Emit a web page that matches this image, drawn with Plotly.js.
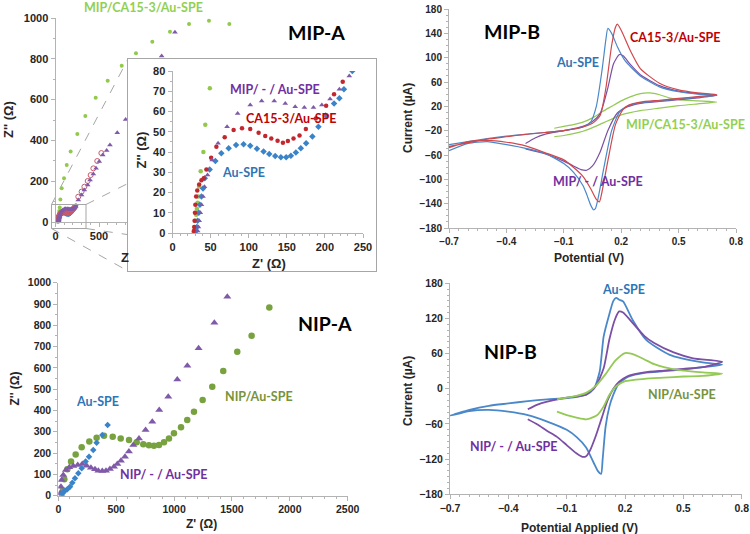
<!DOCTYPE html>
<html><head><meta charset="utf-8">
<script src="https://cdn.plot.ly/plotly-3.0.1.min.js"></script>
<style>html,body{margin:0;padding:0;background:#fff}#chart{width:750px;height:534px}</style>
</head><body><div id="chart"></div>
<script>
// ===================== DATA =====================
// MIP-A (EIS, Nyquist) — points in the zoomed inset range (Z', Z'' in Ω)
const mipA_au_zre   = [31,32,33,34.5,36,38,40,42.3,48.8,56.3,64.1,73.7,83.4,93.3,102,110.8,119.5,127,134.8,142.2,149.2,155.4,161.9,168.4,175.4,183.6,191.5,201,212,219,225,236];
const mipA_au_zim   = [1,3,6,10,14,18,22,27,31.4,35.6,39.4,41.8,43.5,43.8,43.1,41.6,40.2,39,38,37.4,37.4,38.2,39.8,41.8,44.3,47.6,52.5,58,64,66.5,71,80];
const mipA_ca_zre   = [28,28.5,29,29.5,30,31,32.5,35,38,41,44.5,50.7,57.6,68.5,80.2,91.2,102,113,121.7,129.6,137.9,144.9,151.4,158.8,166.7,175,188,201.6,212,223.4];
const mipA_ca_zim   = [1,3,6,10,14,18,21,24,26,27,31.4,37.2,42.6,47.3,50.9,51.7,51.4,49.5,47.9,46.7,45.6,44.6,45.4,46.7,48.2,51.4,56.5,62.9,68.5,74.7];
const mipA_mip_zre  = [33,34,35,36.5,38,40,42,46,52,59.8,71.6,85.5,102,117,133.5,148,161,173,185,196,206.8,219,232];
const mipA_mip_zim  = [1,3,6,10,14,18,22.9,28.6,36,44.3,52.5,59,63.2,65.2,65.2,64,62.4,62,62,63.2,66.2,71,77.5];
const mipA_mipca_zre = [28,29,30,31,32,33,34,35,37,40.5,43,49];
const mipA_mipca_zim = [0.5,3,6,9,12,15,18,23,30.5,40,53.5,71.5];
// MIP-A — further (low-frequency) points seen on the main, full-scale plot
const mipA_ca_zre_hi   = [262,300,332,370,404,435,480,527];
const mipA_ca_zim_hi   = [124,149,173,201,230,263,299,338];
const mipA_mip_zre_hi  = [262,300,331,370,397,435,466,503,543,588,626,710,806,1220,1373];
const mipA_mip_zim_hi  = [108,132,157,181,206,235,263,296,328,350,377,438,503,814,930];
const mipA_mipca_zre_hi = [56,71,98,129,174,251,343,462,600,761,925,1113,1316,1535,1764,1998,2225,2416];
const mipA_mipca_zim_hi = [110,165,214,279,345,431,520,609,693,766,827,884,933,971,987,971,923,854];

// MIP-B (cyclic voltammetry): potential (V) and current (µA)
const mipB_au_E  = [-0.7,-0.6,-0.5,-0.4,-0.3,-0.2,-0.1,0,0.04,0.07,0.1,0.12,0.13,0.15,0.18,0.22,0.3,0.4,0.5,0.6,0.7, 0.6,0.5,0.4,0.3,0.23,0.19,0.15,0.11,0.08,0.065,0.055,0.04,0.02,0,-0.05,-0.1,-0.2,-0.3,-0.4,-0.5,-0.6,-0.7];
const mipB_au_I  = [-43,-38,-33,-29,-26,-23,-20,-14,-6,20,80,130,148,140,118,95,70,52,44,40,38, 35,32,29,26,20,10,-20,-80,-130,-148,-150,-142,-125,-110,-88,-74,-57,-49,-43,-38,-41,-53];
const mipB_ca_E  = [-0.7,-0.6,-0.5,-0.4,-0.3,-0.2,-0.1,0,0.05,0.09,0.12,0.15,0.17,0.18,0.2,0.25,0.3,0.4,0.5,0.6,0.7, 0.6,0.5,0.4,0.3,0.24,0.21,0.17,0.13,0.1,0.086,0.07,0.04,0,-0.05,-0.1,-0.2,-0.3,-0.4,-0.5,-0.6,-0.7];
const mipB_ca_I  = [-46,-40,-34,-30,-26,-23,-20,-14,-8,5,50,120,150,155,145,110,82,58,47,42,39, 36,33,30,27,22,15,-10,-70,-120,-137,-133,-115,-95,-80,-68,-56,-45,-39,-36,-38,-48];
const mipB_mip_E = [-0.3,-0.25,-0.2,-0.1,0,0.05,0.09,0.13,0.16,0.19,0.21,0.25,0.3,0.4,0.5,0.6,0.7, 0.6,0.5,0.4,0.3,0.23,0.18,0.13,0.09,0.05,0.02,-0.01,-0.05,-0.1,-0.2,-0.3];
const mipB_mip_I = [-41,-32,-26,-20,-13,-5,8,50,90,105,103,88,72,54,45,41,38, 34,31,28,25,19,9,-20,-55,-78,-85,-84,-78,-70,-58,-50];
const mipB_mipca_E = [-0.15,-0.1,-0.05,0,0.05,0.1,0.15,0.2,0.25,0.3,0.35,0.4,0.45,0.5,0.6,0.7, 0.6,0.5,0.4,0.3,0.2,0.15,0.1,0.05,0,-0.05,-0.1,-0.15];
const mipB_mipca_I = [-16,-13,-10,-6,1,11,20,29,36,41,42,39,34,31,29,27, 24,21,17,13,6,-1,-8,-15,-21,-25,-28,-30];

// NIP-A (EIS, Nyquist): Z', Z'' in Ω
const nipA_au_zre  = [30,35,45,58,78,101,121,144,173,202,236,265,302,331,380,426];
const nipA_au_zim  = [2,10,18,23,30,42,61,82,105,129,160,183,215,249,285,332];
const nipA_nip_zre = [15,23,29,43,66,95,130,168,207,245,282,317,346,380,412,446,481,510,541,576,610,648,697,754,812,872,950,1028,1115,1212,1348,1460];
const nipA_nip_zim = [11,42,74,97,121,133,139,144,149,141,131,124,117,116,117,125,136,149,164,183,207,238,269,308,347,402,465,546,610,692,812,934];
const nipA_nipau_zre = [40,52,78,110,150,202,268,331,395,470,539,611,677,734,783,826,870,913,956,999,1060,1114,1172,1247,1330,1425,1546,1670,1823];
const nipA_nipau_zim = [25,77,124,160,194,227,254,272,282,277,269,261,251,241,237,235,238,251,269,293,321,355,394,449,512,585,676,751,883];

// NIP-B (cyclic voltammetry): potential (V), current (µA)
const nipB_au_E  = [-0.7,-0.6,-0.5,-0.4,-0.3,-0.2,-0.1,0,0.04,0.07,0.09,0.12,0.14,0.154,0.17,0.19,0.24,0.31,0.43,0.6,0.7, 0.6,0.5,0.4,0.3,0.22,0.17,0.14,0.12,0.1,0.085,0.077,0.06,0.04,0,-0.05,-0.1,-0.2,-0.3,-0.4,-0.5,-0.6,-0.7];
const nipB_au_I  = [-46,-36,-29,-25,-21,-18,-16,-10,0,30,89,128,150,155,152,149,117,83,58,45,41, 37,33,30,27,21,10,-10,-30,-65,-120,-145,-140,-127,-100,-82,-70,-56,-45,-39,-36,-38,-46];
const nipB_nip_E = [-0.3,-0.25,-0.2,-0.1,0,0.05,0.09,0.12,0.15,0.17,0.19,0.24,0.3,0.35,0.45,0.55,0.7, 0.6,0.5,0.4,0.3,0.21,0.17,0.14,0.11,0.08,0.05,0.02,0,-0.02,-0.05,-0.1,-0.15,-0.2,-0.25,-0.3];
const nipB_nip_I = [-35,-27,-22,-15,-10,5,35,85,120,132,130,112,90,78,62,52,46, 37,34,31,28,21,12,0,-20,-50,-80,-105,-115,-116,-110,-96,-82,-72,-61,-52];
const nipB_nipau_E = [-0.15,-0.1,-0.05,0,0.05,0.1,0.15,0.2,0.25,0.3,0.35,0.4,0.5,0.6,0.7, 0.6,0.5,0.4,0.3,0.2,0.15,0.12,0.09,0.06,0.04,0,-0.05,-0.1,-0.15];
const nipB_nipau_I = [-18,-15,-12,-7,5,25,48,61,58,50,42,37,31,28,26, 22,21,19,17,13,3,-10,-30,-44,-48,-52,-49,-45,-39];

// Labels
const panelTitles = ['MIP-A','MIP-B','NIP-A','NIP-B'];
const seriesNames = {au:'Au-SPE', ca:'CA15-3/Au-SPE', mip:'MIP/ - / Au-SPE', mipca:'MIP/CA15-3/Au-SPE', nip:'NIP/ - / Au-SPE', nipau:'NIP/Au-SPE'};

// ===================== STYLE / LAYOUT =====================
const W = 750, H = 534;
const px = x => x / W, py = y => 1 - y / H;
const NARROW = "Lato,'Liberation Sans',Arial,sans-serif";
const SANS = "'Liberation Sans',Arial,sans-serif";
const AXC = '#b3b3b3';
const LBL = 12.5, TTL = 19.5;
const C = {
  green: '#92c94a', greenLbl: '#92d050', olive: '#77a23f', oliveLbl: '#77933c', greenLine: '#93c955',
  purple: '#7f5aa8', purpleLbl: '#7030a0', purpleLine: '#7b4fa5',
  blue: '#3a83c9', blueLbl: '#2e75b6', blueLine: '#4a88c9',
  red: '#c3272d', redLbl: '#c00000', redLine: '#d0484b'
};
const tf = s => ({family: SANS, size: s, color: '#262626', weight: 'bold'});
function axis(o) {
  return Object.assign({showline: true, linecolor: AXC, linewidth: 1, ticks: 'outside', ticklen: 4,
    tickcolor: AXC, tickwidth: 1, showgrid: false, zeroline: false, fixedrange: true, automargin: false}, o);
}
const minor = d => ({dtick: d, ticks: 'outside', ticklen: 2, tickcolor: AXC, showgrid: false});
const cat = (a, b) => a.concat(b);

const traces = [];
const mk = (x, y, xa, ya, sym, size, color, extra) => Object.assign({type: 'scatter', mode: 'markers', x, y,
  xaxis: xa, yaxis: ya, marker: {symbol: sym, size, color, line: {width: 0}}, hoverinfo: 'skip'}, extra || {});
const ln = (x, y, xa, ya, color, w) => ({type: 'scatter', mode: 'lines', x, y, xaxis: xa, yaxis: ya,
  line: {color, width: w, shape: 'spline', smoothing: 0.6}, hoverinfo: 'skip'});

// MIP-A main
traces.push(mk(cat(mipA_mipca_zre, mipA_mipca_zre_hi), cat(mipA_mipca_zim, mipA_mipca_zim_hi), 'x', 'y', 'circle', 4, C.green, {cliponaxis: false}));
traces.push(mk(mipA_au_zre, mipA_au_zim, 'x', 'y', 'diamond', 4, C.blue));
traces.push(mk(cat(mipA_ca_zre, mipA_ca_zre_hi), cat(mipA_ca_zim, mipA_ca_zim_hi), 'x', 'y', 'circle-open', 5, '#c95a6a', {marker: {symbol: 'circle-open', size: 5, color: '#c95a6a', line: {width: 1, color: '#c95a6a'}}}));
traces.push(mk(cat(mipA_mip_zre, mipA_mip_zre_hi), cat(mipA_mip_zim, mipA_mip_zim_hi), 'x', 'y', 'triangle-up', 5, C.purple));
// box subplot (empty)
traces.push({type: 'scatter', x: [], y: [], xaxis: 'x2', yaxis: 'y2', hoverinfo: 'skip'});
// MIP-A inset
traces.push(mk(mipA_mipca_zre, mipA_mipca_zim, 'x3', 'y3', 'circle', 4.5, C.green));
traces.push(mk(mipA_au_zre, mipA_au_zim, 'x3', 'y3', 'diamond', 5, C.blue));
traces.push(mk(mipA_ca_zre, mipA_ca_zim, 'x3', 'y3', 'circle', 4.5, C.red));
traces.push(mk(mipA_mip_zre, mipA_mip_zim, 'x3', 'y3', 'triangle-up', 5, C.purple));
// MIP-B
traces.push(ln(mipB_mipca_E, mipB_mipca_I, 'x4', 'y4', C.greenLine, 1.2));
traces.push(ln(mipB_mip_E, mipB_mip_I, 'x4', 'y4', C.purpleLine, 1.2));
traces.push(ln(mipB_au_E, mipB_au_I, 'x4', 'y4', C.blueLine, 1.2));
traces.push(ln(mipB_ca_E, mipB_ca_I, 'x4', 'y4', C.redLine, 1.2));
// NIP-A
traces.push(mk(nipA_nipau_zre, nipA_nipau_zim, 'x5', 'y5', 'circle', 6.5, C.olive));
traces.push(mk(nipA_nip_zre, nipA_nip_zim, 'x5', 'y5', 'triangle-up', 7, C.purple));
traces.push(mk(nipA_au_zre, nipA_au_zim, 'x5', 'y5', 'diamond', 5, C.blue));
// NIP-B
traces.push(ln(nipB_au_E, nipB_au_I, 'x6', 'y6', C.blueLine, 1.8));
traces.push(ln(nipB_nip_E, nipB_nip_I, 'x6', 'y6', C.purpleLine, 1.8));
traces.push(ln(nipB_nipau_E, nipB_nipau_I, 'x6', 'y6', C.greenLine, 1.8));

const layout = {
  width: W, height: H, margin: {l: 0, r: 0, t: 0, b: 0}, showlegend: false,
  paper_bgcolor: '#ffffff', plot_bgcolor: '#ffffff',
  // MIP-A main
  xaxis: axis({domain: [px(55.5), px(229.5)], range: [0, 2000], anchor: 'y', tick0: 0, dtick: 500, minor: minor(100), tickfont: tf(11)}),
  yaxis: axis({domain: [py(222), py(18)], range: [0, 1000], anchor: 'x', tick0: 0, dtick: 200, minor: minor(100), tickfont: tf(11)}),
  // inset frame
  xaxis2: {domain: [px(128), px(376)], range: [0, 1], anchor: 'y2', showline: true, mirror: true, linecolor: '#a6a6a6', ticks: '', showticklabels: false, showgrid: false, zeroline: false, fixedrange: true},
  yaxis2: {domain: [py(271), py(59)], range: [0, 1], anchor: 'x2', showline: true, mirror: true, linecolor: '#a6a6a6', ticks: '', showticklabels: false, showgrid: false, zeroline: false, fixedrange: true},
  // MIP-A inset
  xaxis3: axis({domain: [px(172.5), px(363)], range: [0, 250], anchor: 'y3', tick0: 0, dtick: 50, minor: minor(10), tickfont: tf(11)}),
  yaxis3: axis({domain: [py(233), py(71)], range: [0, 80], anchor: 'x3', tick0: 0, dtick: 10, minor: minor(5), tickfont: tf(11)}),
  // MIP-B
  xaxis4: axis({domain: [px(449), px(736)], range: [-0.7, 0.8], anchor: 'y4', tick0: -0.7, dtick: 0.3, minor: minor(0.05), tickfont: tf(10)}),
  yaxis4: axis({domain: [py(228), py(9)], range: [-180, 180], anchor: 'x4', tick0: -180, dtick: 40, minor: minor(10), tickfont: tf(10)}),
  // NIP-A
  xaxis5: axis({domain: [px(58.3), px(347.7)], range: [0, 2500], anchor: 'y5', tick0: 0, dtick: 500, minor: minor(100), tickfont: tf(10.5)}),
  yaxis5: axis({domain: [py(495.7), py(282.7)], range: [0, 1000], anchor: 'x5', tick0: 0, dtick: 100, minor: minor(50), tickfont: tf(10.5)}),
  // NIP-B
  xaxis6: axis({domain: [px(450), px(741.7)], range: [-0.7, 0.8], anchor: 'y6', tick0: -0.7, dtick: 0.3, minor: minor(0.05), tickfont: tf(10.5)}),
  yaxis6: axis({domain: [py(494.3), py(283.3)], range: [-180, 180], anchor: 'x6', tick0: -180, dtick: 60, minor: minor(10), tickfont: tf(10.5)}),
  shapes: [
    {type: 'rect', xref: 'paper', yref: 'paper', x0: px(51.5), x1: px(86), y0: py(228.5), y1: py(204.5), line: {color: '#a6a6a6', width: 1}, layer: 'above'},
    {type: 'line', xref: 'paper', yref: 'paper', x0: px(51.5), y0: py(204.5), x1: px(128), y1: py(59), line: {color: '#a6a6a6', width: 1, dash: 'dash'}, layer: 'below'},
    {type: 'line', xref: 'paper', yref: 'paper', x0: px(51.5), y0: py(228.5), x1: px(128), y1: py(271), line: {color: '#a6a6a6', width: 1, dash: 'dash'}, layer: 'below'},
    {type: 'line', xref: 'paper', yref: 'paper', x0: px(86), y0: py(204.5), x1: px(376), y1: py(59), line: {color: '#a6a6a6', width: 1, dash: 'dash'}, layer: 'below'},
    {type: 'line', xref: 'paper', yref: 'paper', x0: px(86), y0: py(228.5), x1: px(376), y1: py(271), line: {color: '#a6a6a6', width: 1, dash: 'dash'}, layer: 'below'}
  ],
  annotations: []
};

function note(text, x, y, color, size, family, angle) {
  layout.annotations.push({text, xref: 'paper', yref: 'paper', x: px(x), y: py(y), xanchor: 'center', yanchor: 'middle',
    showarrow: false, textangle: angle || 0, font: {family: family || NARROW, size, color, weight: 'bold'}});
}
// panel titles
note(panelTitles[0], 316.5, 32.5, '#000', TTL);
note(panelTitles[1], 511.5, 31, '#000', TTL);
note(panelTitles[2], 324.5, 323.5, '#000', TTL);
note(panelTitles[3], 510.5, 351.5, '#000', TTL);
// MIP-A labels
note(seriesNames.mipca, 143, 7, C.greenLbl, LBL);
note(seriesNames.mip, 274.5, 90, C.purpleLbl, LBL);
note(seriesNames.ca, 290.5, 118.5, C.redLbl, LBL);
note(seriesNames.au, 244, 172, C.blueLbl, LBL);
// MIP-B labels
note(seriesNames.ca, 675, 37.5, C.redLbl, LBL);
note(seriesNames.au, 577.5, 63, C.blueLbl, LBL);
note(seriesNames.mipca, 685, 124.5, C.greenLbl, LBL);
note(seriesNames.mip, 598, 182, C.purpleLbl, LBL);
// NIP-A labels
note(seriesNames.au, 98, 401, C.blueLbl, LBL);
note(seriesNames.nipau, 258.5, 396, C.oliveLbl, LBL);
note(seriesNames.nip, 164, 474, C.purpleLbl, LBL);
// NIP-B labels
note(seriesNames.au, 623, 289.5, C.blueLbl, LBL);
note(seriesNames.nipau, 681.5, 394, C.oliveLbl, LBL);
note(seriesNames.nip, 513.5, 446, C.purpleLbl, LBL);
// axis titles
note("Z'' (Ω)", 8, 120, '#262626', 13, SANS, -90);
note("Z", 124.5, 257, '#262626', 13, SANS);
note("Z'' (Ω)", 141, 150.5, '#262626', 13, SANS, -90);
note("Z' (Ω)", 268.5, 263.5, '#262626', 13, SANS);
note('Current (µA)', 407.5, 118.5, '#262626', 12, SANS, -90);
note('Potential (V)', 588.5, 258, '#262626', 12, SANS);
note("Z'' (Ω)", 15, 388.5, '#262626', 12, SANS, -90);
note("Z' (Ω)", 201, 524, '#262626', 12, SANS);
note('Current (µA)', 407.5, 391.5, '#262626', 12, SANS, -90);
note('Potential Applied (V)', 579.5, 527.5, '#262626', 12, SANS);

Plotly.newPlot('chart', traces, layout, {staticPlot: true, displayModeBar: false});
</script></body></html>
